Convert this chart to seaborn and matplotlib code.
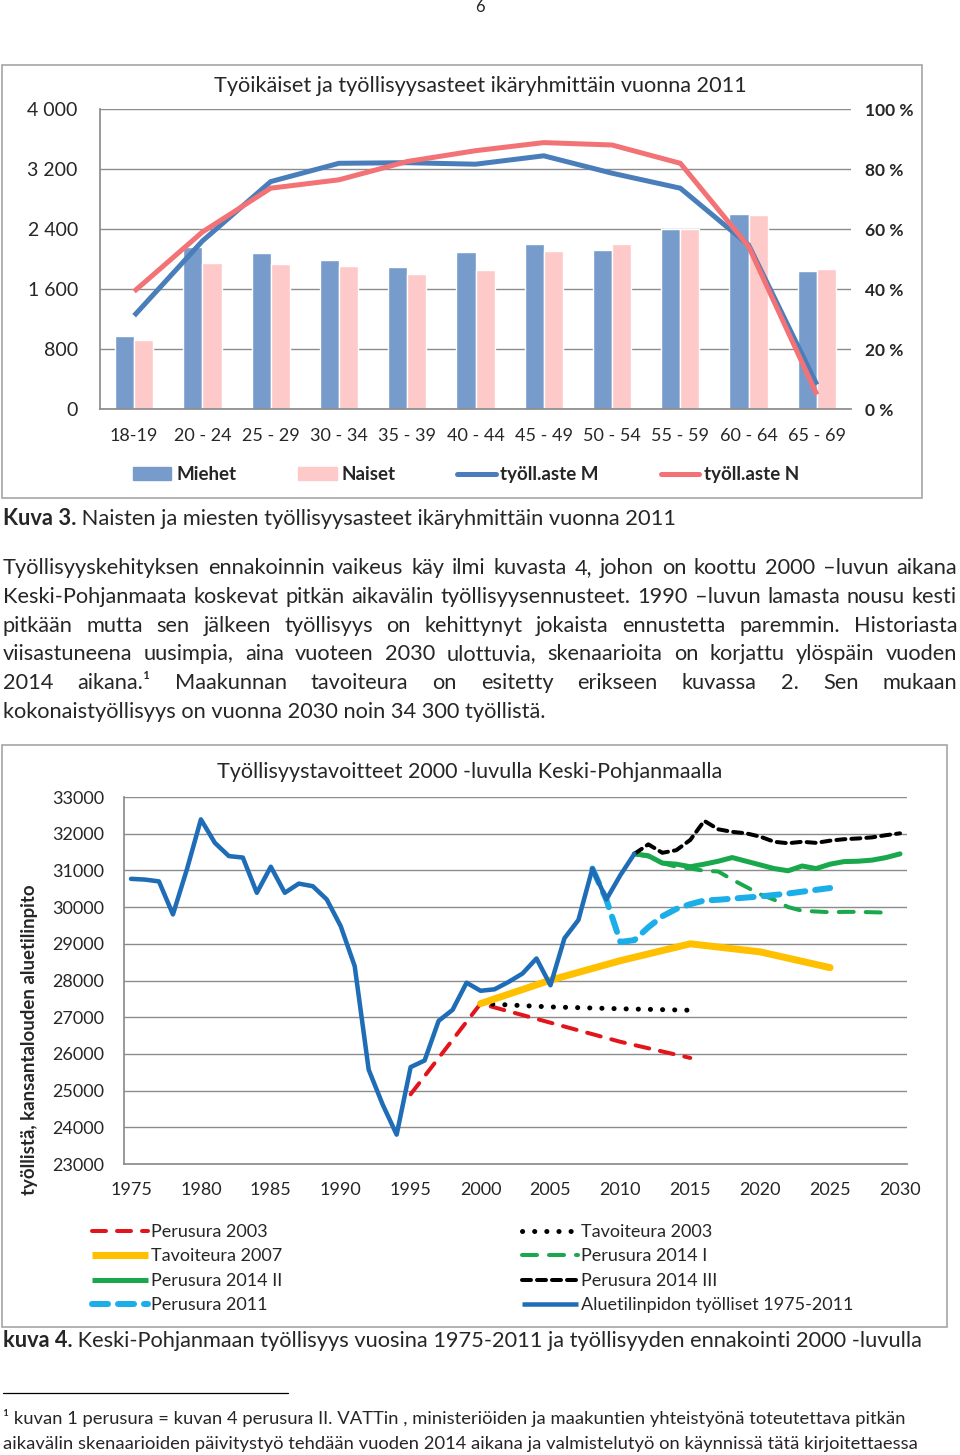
import numpy as np
import pandas as pd
import matplotlib
matplotlib.use('Agg')
import matplotlib.pyplot as plt
import seaborn as sns
from matplotlib.patches import Rectangle, Patch
from matplotlib.lines import Line2D

W, H = 960, 1455

# --- kuva 3: työikäiset ja työllisyysasteet ---
ika = ['18-19', '20 - 24', '25 - 29', '30 - 34', '35 - 39', '40 - 44',
       '45 - 49', '50 - 54', '55 - 59', '60 - 64', '65 - 69']
miehet = [968, 2158, 2078, 1984, 1900, 2091, 2198, 2122, 2397, 2601, 1842]
naiset = [915, 1949, 1936, 1905, 1802, 1851, 2113, 2206, 2402, 2593, 1873]
aste_m = [31.1, 56.0, 75.8, 81.9, 82.1, 81.6, 84.4, 78.6, 73.6, 54.7, 8.1]
aste_n = [39.2, 59.0, 73.6, 76.4, 82.5, 86.1, 88.8, 88.0, 81.9, 54.2, 4.8]

# --- kuva 4: työllisyys ja ennusteet ---
v_alue = list(range(1975, 2012))
alue = [30770, 30750, 30700, 29800, 31030, 32390, 31750, 31390, 31350, 30390,
        31100, 30390, 30640, 30570, 30210, 29480, 28390, 25570, 24620, 23800,
        25640, 25820, 26900, 27200, 27940, 27720, 27760, 27960, 28190, 28600,
        27870, 29150, 29650, 31050, 30210, 30870, 31450]
v_p2003 = [1995, 2000, 2005, 2010, 2015]
p2003 = [24900, 27370, 26850, 26330, 25890]
v_t2003 = [2000, 2005, 2010, 2015]
t2003 = [27370, 27280, 27230, 27190]
v_t2007 = [2000, 2005, 2010, 2015, 2020, 2025]
t2007 = [27370, 28010, 28540, 29000, 28780, 28350]
v_2014 = list(range(2011, 2031))
p2014_2 = [31450, 31400, 31200, 31170, 31100, 31170, 31250, 31350, 31250, 31150,
           31050, 30990, 31120, 31050, 31170, 31240, 31250, 31280, 31350, 31450]
p2014_3 = [31450, 31710, 31480, 31550, 31830, 32350, 32120, 32050, 32010, 31920,
           31780, 31740, 31780, 31750, 31810, 31850, 31870, 31900, 31960, 32010]
v_2014_1 = list(range(2011, 2030))
p2014_1 = [31450, 31380, 31200, 31100, 31050, 30990, 30970, 30750, 30550, 30350,
           30200, 30000, 29900, 29880, 29860, 29870, 29870, 29860, 29850]
v_p2011 = list(range(2008, 2026))
p2011 = [31050, 30200, 29050, 29100, 29450, 29750, 29950, 30080, 30180, 30200,
         30230, 30260, 30290, 30330, 30370, 30420, 30470, 30520]

sns.set_theme(style='white')
plt.rcParams['font.family'] = ['Lato', 'DejaVu Sans']
plt.rcParams['lines.scale_dashes'] = False

fig = plt.figure(figsize=(W / 100, H / 100), dpi=100)
fig.patch.set_facecolor('white')
harmaa = '#8C8C8C'
r = fig.canvas.get_renderer()


def box(x0, y0, x1, y1):
    return [x0 / W, 1 - y1 / H, (x1 - x0) / W, (y1 - y0) / H]


def fy(y):
    return 1 - y / H


def px(v):
    return v * 0.72


def leveys(t):
    return t.get_window_extent(renderer=r).width


def sovita(osat, tavoite):
    # fonttikoko, jolla tekstin leveys on tavoite pikseliä
    w = 0
    for teksti, kw in osat:
        t = fig.text(0, 0, teksti, fontsize=10, **kw)
        w += leveys(t)
        t.remove()
    return 10 * tavoite / w


def rivi(osat, y, size, x0=3):
    x = x0
    for teksti, kw in osat:
        t = fig.text(x / W, fy(y), teksti, va='baseline', fontsize=size, **kw)
        x += leveys(t)


def tasaa(sanat, y, size, x0=3, x1=957):
    arts = [fig.text(0, fy(y), s, va='baseline', fontsize=size) for s in sanat]
    ws = [leveys(a) for a in arts]
    vali = (x1 - x0 - sum(ws)) / (len(sanat) - 1)
    x = x0
    for a, w in zip(arts, ws):
        a.set_x(x / W)
        x += w + vali


# ---------- kuva 3 ----------
fig.text(480 / W, fy(7), '6', ha='center', va='center', fontsize=12)
fig.add_artist(Rectangle((2 / W, fy(498)), 920 / W, 433 / H, transform=fig.transFigure,
                         fill=False, ec='#A6A6A6', lw=1.2))
fig.text(480 / W, fy(92), 'Työikäiset ja työllisyysasteet ikäryhmittäin vuonna 2011',
         ha='center', va='baseline', fontsize=15.6)

ax1 = fig.add_axes(box(100, 109, 851, 409))
df1 = pd.DataFrame({'ika': ika * 2, 'arvo': miehet + naiset,
                    'sukupuoli': ['Miehet'] * 11 + ['Naiset'] * 11})
c_m, c_n = '#779CCB', '#FDC9C9'
l_m, l_n = '#4A7EBB', '#F27276'
sns.barplot(data=df1, x='ika', y='arvo', hue='sukupuoli', palette=[c_m, c_n],
            width=0.56, saturation=1, ax=ax1, legend=False)
ax1.set_ylim(0, 4000)
ax1.set_yticks(range(0, 4001, 800))
ax1.set_yticklabels([f'{v:,}'.replace(',', ' ') for v in range(0, 4001, 800)])
ax1.yaxis.grid(True, color=harmaa, lw=1)
ax1.set_axisbelow(True)
ax1.set_xlabel('')
ax1.set_ylabel('')
for s in ['top', 'right']:
    ax1.spines[s].set_visible(False)
for s in ['left', 'bottom']:
    ax1.spines[s].set_color(harmaa)
ax1.tick_params(axis='y', length=0, pad=16, labelsize=14)
ax1.tick_params(axis='x', length=0, pad=14, labelsize=13)

ax2 = ax1.twinx()
sns.lineplot(x=np.arange(11), y=aste_m, ax=ax2, color=l_m, lw=px(5), solid_capstyle='butt')
sns.lineplot(x=np.arange(11), y=aste_n, ax=ax2, color=l_n, lw=px(5), solid_capstyle='butt')
ax2.set_ylim(0, 100)
ax2.set_yticks(range(0, 101, 20))
ax2.set_yticklabels([f'{v} %' for v in range(0, 101, 20)], fontweight='bold')
ax2.tick_params(axis='y', length=0, pad=10, labelsize=12.5)
for s in ax2.spines.values():
    s.set_visible(False)
ax1.set_xlim(-0.5, 10.5)

h1 = [Patch(color=c_m), Patch(color=c_n),
      Line2D([], [], color=l_m, lw=px(5)), Line2D([], [], color=l_n, lw=px(5))]
fig.legend(h1, ['Miehet', 'Naiset', 'työll.aste M', 'työll.aste N'],
           loc='center left', bbox_to_anchor=(133 / W, fy(475)), ncol=4, frameon=False,
           borderpad=0, borderaxespad=0, handlelength=2.05, handletextpad=0.25,
           columnspacing=3.3, prop={'weight': 'bold', 'size': 13.5})

# ---------- tekstit ----------
kuva3 = [('Kuva 3.', dict(fontweight='bold')),
         (' Naisten ja miesten työllisyysasteet ikäryhmittäin vuonna 2011', {})]
rivi(kuva3, 525, sovita(kuva3, 675))

kappale = [
    'Työllisyyskehityksen ennakoinnin vaikeus käy ilmi kuvasta 4, johon on koottu 2000 –luvun aikana',
    'Keski-Pohjanmaata koskevat pitkän aikavälin työllisyysennusteet. 1990 –luvun lamasta nousu kesti',
    'pitkään mutta sen jälkeen työllisyys on kehittynyt jokaista ennustetta paremmin. Historiasta',
    'viisastuneena uusimpia, aina vuoteen 2030 ulottuvia, skenaarioita on korjattu ylöspäin vuoden',
    '2014 aikana.¹ Maakunnan tavoiteura on esitetty erikseen kuvassa 2. Sen mukaan',
]
viimeinen = 'kokonaistyöllisyys on vuonna 2030 noin 34 300 työllistä.'
koko = sovita([(viimeinen, {})], 542)
for i, k in enumerate(kappale):
    tasaa(k.split(' '), 574 + i * 28.8, koko)
fig.text(3 / W, fy(718), viimeinen, va='baseline', fontsize=koko)

# ---------- kuva 4 ----------
fig.add_artist(Rectangle((2 / W, fy(1327)), 945 / W, 582 / H, transform=fig.transFigure,
                         fill=False, ec='#A6A6A6', lw=1.2))
fig.text(470 / W, fy(778), 'Työllisyystavoitteet 2000 -luvulla Keski-Pohjanmaalla',
         ha='center', va='baseline', fontsize=15.5)
fig.text(30 / W, fy(1040), 'työllistä, kansantalouden aluetilinpito', rotation=90,
         ha='center', va='center', fontweight='bold', fontsize=13.4)

ax3 = fig.add_axes(box(124, 797, 907, 1164))
sarjat = [
    ('Perusura 2003', v_p2003, p2003, '#E3151C', px(4), (0, (px(14), px(11)))),
    ('Tavoiteura 2003', v_t2003, t2003, 'black', px(5), (0, (0.1, px(12)))),
    ('Tavoiteura 2007', v_t2007, t2007, '#FFC000', px(7), '-'),
    ('Perusura 2014 I', v_2014_1, p2014_1, '#19A84B', px(4), (0, (px(15), px(12)))),
    ('Perusura 2014 II', v_2014, p2014_2, '#19A84B', px(5), '-'),
    ('Perusura 2014 III', v_2014, p2014_3, 'black', px(4), (0, (px(9), px(6)))),
    ('Perusura 2011', v_p2011, p2011, '#1CAEE8', px(6), (0, (px(16), px(10)))),
    ('Aluetilinpidon työlliset 1975-2011', v_alue, alue, '#1F6DB6', px(4.5), '-'),
]
kahvat = {}
for nimi, xs, ys, vari, lw, ls in sarjat:
    sns.lineplot(x=xs, y=ys, ax=ax3, color=vari, lw=lw, linestyle=ls,
                 dash_capstyle='round', solid_capstyle='round', solid_joinstyle='round')
    kahvat[nimi] = Line2D([], [], color=vari, lw=lw, linestyle=ls, dash_capstyle='round',
                          solid_capstyle='butt')
ax3.set_xlim(1974.5, 2030.5)
ax3.set_ylim(23000, 33000)
ax3.set_xticks(range(1975, 2031, 5))
ax3.set_yticks(range(23000, 33001, 1000))
ax3.yaxis.grid(True, color=harmaa, lw=1)
ax3.set_axisbelow(True)
for s in ['top', 'right']:
    ax3.spines[s].set_visible(False)
for s in ['left', 'bottom']:
    ax3.spines[s].set_color(harmaa)
ax3.tick_params(axis='y', length=0, pad=14, labelsize=13)
ax3.tick_params(axis='x', length=0, pad=13, labelsize=13)

jarj = ['Perusura 2003', 'Tavoiteura 2007', 'Perusura 2014 II', 'Perusura 2011',
        'Tavoiteura 2003', 'Perusura 2014 I', 'Perusura 2014 III',
        'Aluetilinpidon työlliset 1975-2011']
fig.legend([kahvat[n] for n in jarj], jarj, loc='upper left',
           bbox_to_anchor=(92 / W, fy(1224)), ncol=2, frameon=False, borderpad=0,
           borderaxespad=0, handlelength=3.1, handletextpad=0.15, columnspacing=13.3,
           labelspacing=0.47, prop={'size': 13})

kuva4 = [('kuva 4.', dict(fontweight='bold')),
         (' Keski-Pohjanmaan työllisyys vuosina 1975-2011 ja työllisyyden ennakointi 2000 -luvulla', {})]
rivi(kuva4, 1347, sovita(kuva4, 918))

fig.add_artist(Line2D([3 / W, 288 / W], [fy(1393)] * 2, color='black', lw=0.9,
                      transform=fig.transFigure))
alaviite = ['¹ kuvan 1 perusura = kuvan 4 perusura II. VATTin , ministeriöiden ja '
            'maakuntien yhteistyönä toteutettava pitkän',
            'aikavälin skenaarioiden päivitystyö tehdään vuoden 2014 aikana ja '
            'valmistelutyö on käynnissä tätä kirjoitettaessa']
koko2 = sovita([(alaviite[1], {})], 911)
fig.text(3 / W, fy(1424), alaviite[0], va='baseline', fontsize=koko2)
fig.text(3 / W, fy(1449), alaviite[1], va='baseline', fontsize=koko2)

fig.savefig('out.png', dpi=100, facecolor='white')
